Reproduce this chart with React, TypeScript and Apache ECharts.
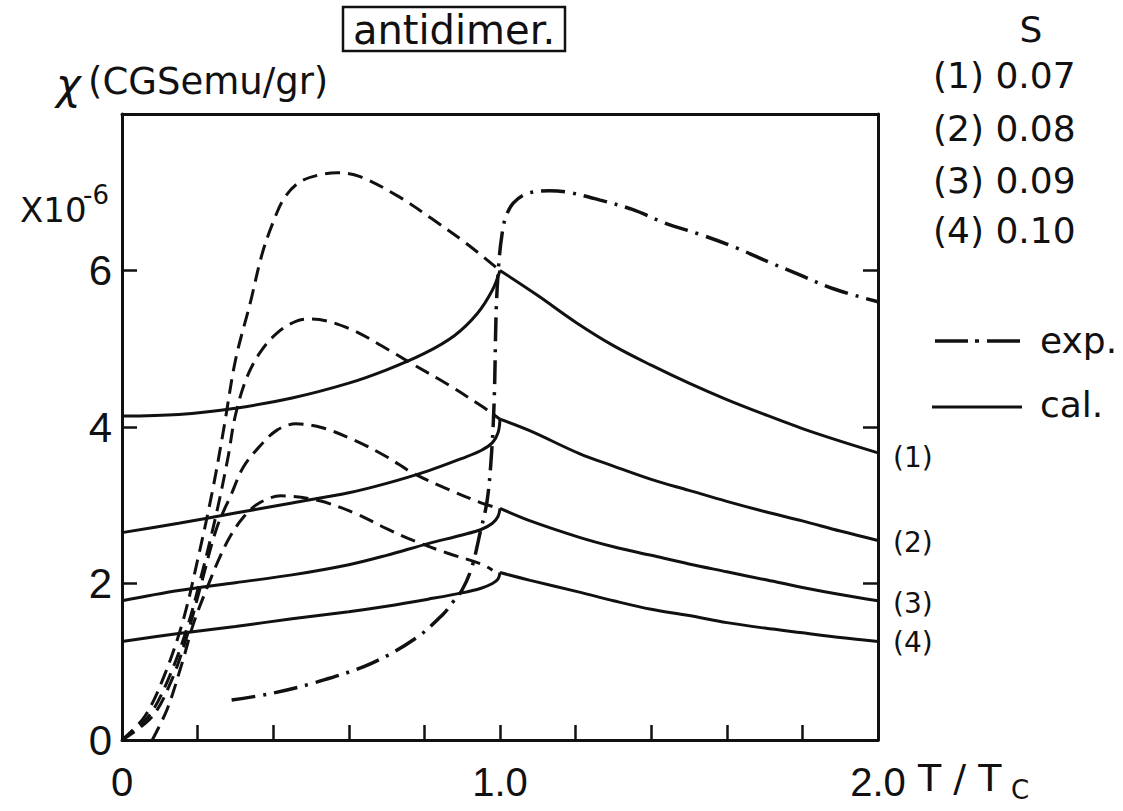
import React, { useEffect, useRef } from "react";
import * as echarts from "echarts";

// T/Tc values and chi (x10^-6 CGSemu/gr)
const cal1Below: number[][] = [[0, 4.14], [0.15, 4.16], [0.3, 4.24], [0.45, 4.37], [0.6, 4.56], [0.7, 4.73], [0.8, 4.94], [0.88, 5.17], [0.94, 5.45], [0.98, 5.75], [1.0, 6.0]];
const cal1Above: number[][] = [[1.0, 6.0], [1.1, 5.68], [1.2, 5.34], [1.3, 5.04], [1.4, 4.79], [1.5, 4.56], [1.6, 4.35], [1.7, 4.16], [1.8, 3.98], [1.9, 3.82], [2.0, 3.67]];
const cal2Below: number[][] = [[0, 2.65], [0.15, 2.77], [0.3, 2.9], [0.45, 3.03], [0.6, 3.16], [0.7, 3.28], [0.81, 3.44], [0.9, 3.6], [0.95, 3.7], [0.98, 3.8], [0.995, 3.93], [1.0, 4.1]];
const cal2Above: number[][] = [[1.0, 4.1], [1.08, 3.95], [1.21, 3.66], [1.3, 3.5], [1.4, 3.33], [1.5, 3.19], [1.6, 3.05], [1.7, 2.92], [1.8, 2.8], [1.9, 2.67], [2.0, 2.55]];
const cal3Below: number[][] = [[0, 1.78], [0.15, 1.91], [0.3, 2.01], [0.45, 2.11], [0.6, 2.24], [0.7, 2.36], [0.81, 2.51], [0.9, 2.62], [0.95, 2.69], [0.98, 2.77], [0.995, 2.86], [1.0, 2.96]];
const cal3Above: number[][] = [[1.0, 2.96], [1.08, 2.8], [1.21, 2.59], [1.3, 2.47], [1.4, 2.36], [1.5, 2.25], [1.6, 2.15], [1.7, 2.05], [1.8, 1.95], [1.9, 1.86], [2.0, 1.78]];
const cal4Below: number[][] = [[0, 1.26], [0.15, 1.36], [0.3, 1.45], [0.45, 1.55], [0.6, 1.64], [0.7, 1.71], [0.81, 1.8], [0.9, 1.88], [0.95, 1.94], [0.98, 2.0], [0.995, 2.06], [1.0, 2.14]];
const cal4Above: number[][] = [[1.0, 2.14], [1.08, 2.04], [1.21, 1.89], [1.3, 1.78], [1.4, 1.67], [1.5, 1.59], [1.6, 1.5], [1.7, 1.43], [1.8, 1.37], [1.9, 1.31], [2.0, 1.26]];

const dash1: number[][] = [[0, 0], [0.06, 0.3], [0.11, 0.8], [0.16, 1.5], [0.2, 2.3], [0.24, 3.2], [0.27, 4.0], [0.3, 4.85], [0.34, 5.6], [0.37, 6.2], [0.4, 6.62], [0.43, 6.93], [0.47, 7.13], [0.52, 7.22], [0.57, 7.25], [0.63, 7.2], [0.73, 6.95], [0.82, 6.66], [0.91, 6.35], [1.0, 6.0]];
const dash2: number[][] = [[0, 0], [0.07, 0.3], [0.12, 0.75], [0.17, 1.4], [0.21, 2.1], [0.25, 2.9], [0.28, 3.6], [0.3, 4.15], [0.33, 4.63], [0.365, 4.95], [0.41, 5.2], [0.46, 5.35], [0.5, 5.38], [0.6, 5.26], [0.7, 5.0], [0.77, 4.8], [0.86, 4.55], [0.95, 4.27], [1.0, 4.1]];
const dash3: number[][] = [[0, 0], [0.08, 0.3], [0.13, 0.75], [0.17, 1.3], [0.21, 2.0], [0.25, 2.7], [0.29, 3.15], [0.32, 3.48], [0.36, 3.73], [0.41, 3.96], [0.46, 4.04], [0.53, 3.99], [0.62, 3.82], [0.7, 3.62], [0.77, 3.41], [0.86, 3.21], [0.95, 3.03], [0.99, 2.97]];
const dash4: number[][] = [[0.08, 0], [0.12, 0.4], [0.16, 1.0], [0.19, 1.5], [0.233, 2.04], [0.26, 2.35], [0.286, 2.6], [0.32, 2.84], [0.36, 3.02], [0.42, 3.12], [0.52, 3.06], [0.62, 2.89], [0.7, 2.7], [0.77, 2.55], [0.86, 2.39], [0.95, 2.25], [0.98, 2.17]];

const expData: number[][] = [[0.29, 0.51], [0.4, 0.6], [0.515, 0.74], [0.66, 0.98], [0.78, 1.31], [0.85, 1.61], [0.875, 1.76], [0.9, 1.92], [0.925, 2.2], [0.947, 2.64], [0.966, 3.06], [0.978, 3.69], [0.985, 4.4], [0.99, 5.5], [0.997, 6.1], [1.005, 6.45], [1.015, 6.68], [1.035, 6.86], [1.07, 6.98], [1.13, 7.02], [1.18, 7.0], [1.265, 6.9], [1.35, 6.78], [1.44, 6.6], [1.53, 6.46], [1.62, 6.3], [1.71, 6.11], [1.79, 5.95], [1.88, 5.77], [2.0, 5.6]];

const xTickLabels: Record<string, string> = { "0": "0", "1": "1.0", "2": "2.0" };
const yTickLabels: Record<string, string> = { "0": "0", "2": "2", "4": "4", "6": "6" };
const sLegend: string[] = ["(1) 0.07", "(2) 0.08", "(3) 0.09", "(4) 0.10"];
const curveLabels: string[] = ["(1)", "(2)", "(3)", "(4)"];

const FONT = "DejaVu Sans";
const NUMFONT = "Liberation Sans";
const INK = "#111";

export default function App() {
  const ref = useRef<HTMLDivElement>(null);
  useEffect(() => {
    if (!ref.current) return;
    const chart = echarts.init(ref.current, undefined, { renderer: "svg" });

    const solid = (data: number[][]) => ({
      type: "line", data, smooth: 0.35, symbol: "none",
      lineStyle: { color: INK, width: 3 }, z: 3,
    });
    const dashed = (data: number[][]) => ({
      type: "line", data, smooth: 0.35, symbol: "none",
      lineStyle: { color: INK, width: 3, type: [15, 8] }, z: 3,
    });

    const sY = [75, 128, 180, 230];
    const cY = [457, 542, 603, 642];

    chart.setOption({
      animation: false,
      backgroundColor: "#fff",
      grid: { left: 122, right: 245, top: 114, bottom: 71 },
      xAxis: [
        {
          type: "value", min: 0, max: 2, interval: 0.2,
          axisLine: { onZero: false, lineStyle: { color: INK, width: 3 } },
          axisTick: { inside: true, length: 15, lineStyle: { color: INK, width: 2.5 } },
          splitLine: { show: false },
          axisLabel: {
            margin: 22, fontSize: 40, fontFamily: NUMFONT, color: INK,
            formatter: (v: number) => xTickLabels[String(Math.round(v * 10) / 10)] || "",
          },
        },
        {
          type: "value", min: 0, max: 2, position: "top",
          axisLine: { show: true, onZero: false, lineStyle: { color: INK, width: 3 } },
          axisTick: { show: false }, axisLabel: { show: false }, splitLine: { show: false },
        },
      ],
      yAxis: [
        {
          type: "value", min: 0, max: 8, interval: 2,
          axisLine: { show: true, onZero: false, lineStyle: { color: INK, width: 3 } },
          axisTick: { show: true, inside: true, length: 15, lineStyle: { color: INK, width: 2.5 } },
          splitLine: { show: false },
          axisLabel: {
            margin: 10, fontSize: 42, fontFamily: NUMFONT, color: INK,
            formatter: (v: number) => yTickLabels[String(v)] || "",
          },
        },
        {
          type: "value", min: 0, max: 8, interval: 2, position: "right",
          axisLine: { show: true, onZero: false, lineStyle: { color: INK, width: 3 } },
          axisTick: { show: true, inside: true, length: 15, lineStyle: { color: INK, width: 2.5 } },
          splitLine: { show: false }, axisLabel: { show: false },
        },
      ],
      series: [
        solid(cal1Below), solid(cal1Above),
        solid(cal2Below), solid(cal2Above),
        solid(cal3Below), solid(cal3Above),
        solid(cal4Below), solid(cal4Above),
        dashed(dash1), dashed(dash2), dashed(dash3), dashed(dash4),
        {
          type: "line", data: expData, smooth: 0.35, symbol: "none",
          lineStyle: { color: INK, width: 3.5, type: [24, 8, 3, 8] }, z: 4,
        },
      ],
      graphic: [
        { type: "rect", shape: { x: 343, y: 7, width: 222, height: 44 }, style: { fill: "none", stroke: INK, lineWidth: 2.5 } },
        { type: "text", x: 454, y: 30, style: { text: "antidimer.", font: `40px "${FONT}"`, fill: INK, align: "center", verticalAlign: "middle" } },
        { type: "text", x: 56, y: 84, style: { text: "χ", font: `italic 42px "${FONT}"`, fill: INK, align: "left", verticalAlign: "middle" } },
        { type: "text", x: 88, y: 81, style: { text: "(CGSemu/gr)", font: `37px "${FONT}"`, fill: INK, align: "left", verticalAlign: "middle" } },
        { type: "text", x: 20, y: 210, style: { text: "X10", font: `34px "${FONT}"`, fill: INK, align: "left", verticalAlign: "middle" } },
        { type: "text", x: 83, y: 195, style: { text: "-6", font: `26px "${FONT}"`, fill: INK, align: "left", verticalAlign: "middle" } },
        { type: "text", x: 1031, y: 29, style: { text: "S", font: `36px "${FONT}"`, fill: INK, align: "center", verticalAlign: "middle" } },
        ...sLegend.map((t, i) => ({
          type: "text", x: 933, y: sY[i], style: { text: t, font: `36px "${FONT}"`, fill: INK, align: "left", verticalAlign: "middle" },
        })),
        { type: "line", shape: { x1: 935, y1: 341, x2: 1023, y2: 341 }, style: { stroke: INK, lineWidth: 3.5, lineDash: [33, 7, 4, 8] } },
        { type: "text", x: 1040, y: 340, style: { text: "exp.", font: `36px "${FONT}"`, fill: INK, align: "left", verticalAlign: "middle" } },
        { type: "line", shape: { x1: 932, y1: 407, x2: 1022, y2: 407 }, style: { stroke: INK, lineWidth: 3 } },
        { type: "text", x: 1040, y: 404, style: { text: "cal.", font: `36px "${FONT}"`, fill: INK, align: "left", verticalAlign: "middle" } },
        ...curveLabels.map((t, i) => ({
          type: "text", x: 893, y: cY[i], style: { text: t, font: `28px "${FONT}"`, fill: INK, align: "left", verticalAlign: "middle" },
        })),
        { type: "text", x: 918, y: 778, style: { text: "T / T", font: `38px "${FONT}"`, fill: INK, align: "left", verticalAlign: "middle" } },
        { type: "text", x: 1011, y: 790, style: { text: "C", font: `26px "${FONT}"`, fill: INK, align: "left", verticalAlign: "middle" } },
      ],
    });
    return () => chart.dispose();
  }, []);
  return <div ref={ref} style={{ position: "fixed", left: 0, top: 0, width: 1123, height: 811, background: "#fff" }} />;
}
